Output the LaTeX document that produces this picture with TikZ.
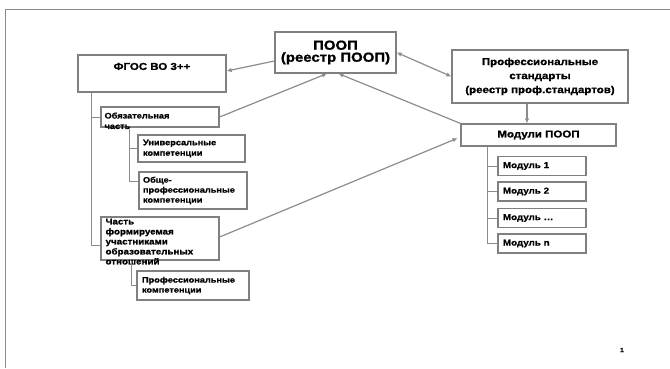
\documentclass[tikz,border=0pt]{standalone}
\usepackage{fontspec}
\setmainfont[FakeStretch=1.15, BoldFeatures={FakeBold=1.2}]{Liberation Sans}
\usetikzlibrary{arrows.meta}
\usetikzlibrary{positioning}

\definecolor{boxGray}{RGB}{128,128,128}
\definecolor{lineGray}{RGB}{140,140,140}

\begin{document}
\begin{tikzpicture}[x=1pt,y=-1pt]
\tikzset{
  boxNode/.style={
    rectangle,
                   draw=boxGray,
                   line width=1.2pt,
                   inner sep=2pt
    },
  leftBox/.style={boxNode, align=left, inner xsep=5pt,
    font=\bfseries\fontsize{8}{10.5}\selectfont},
  modBox/.style={leftBox, text width=78pt, minimum height=19pt,
    font=\bfseries\fontsize{8.5}{10}\selectfont},
  leftText/.style={align=left, inner sep=0pt},
  treeLine/.style={draw=lineGray, line width=1pt},
  arrowLine/.style={draw=lineGray, line width=1.2pt, >={Latex[length=5pt,width=4.5pt]}}
}
    \useasboundingbox (0,0) rectangle (670,368);
    \draw[lineGray, line width=1pt] (670,9) -- (5,9) -- (5,368);

    % top row
    \node (fgos)[boxNode, minimum width=148pt, minimum height=37pt] at (152,73.5) {};
    \node (fgosText)[anchor=north, font=\bfseries\fontsize{10}{12}\selectfont] at ([yshift=-5pt]fgos.north) {ФГОС ВО 3++};
    \node (poop)[boxNode, minimum width=121pt, minimum height=41pt, align=center,
      font=\bfseries\fontsize{13}{12}\selectfont] at (335.5,52.5) {ПООП\\(реестр ПООП)};
    \node (prof)[boxNode, minimum width=176pt, minimum height=53pt, align=center,
      font=\bfseries\fontsize{10}{14}\selectfont] at (540,76.5) {Профессиональные\\стандарты\\(реестр проф.стандартов)};
    \node (moduli)[boxNode, minimum width=155pt, minimum height=22pt,
      font=\bfseries\fontsize{10}{12}\selectfont] at (538.5,135) {Модули ПООП};

    % left branch
    \node (obyaz)[boxNode, minimum width=118pt, minimum height=20pt] at (160,117) {};
    \node (obyazText)[leftText, anchor=north west, font=\bfseries\fontsize{8}{10.5}\selectfont]
      at ([xshift=4pt,yshift=-6pt]obyaz.north west) {Обязательная\\часть};
    \node (univ)[leftBox, text width=97pt, minimum height=27pt] at (191.5,148.5) {Универсальные\\компетенции};
    \node (obshe)[leftBox, inner xsep=4pt, text width=100pt, minimum height=37pt, font=\bfseries\fontsize{8}{10}\selectfont]
      at (193,190.5) {Обще-\\профессиональные\\компетенции};
    \node (chast)[boxNode, minimum width=118pt, minimum height=43pt] at (160,238.5) {};
    \node (chastText)[leftText, anchor=north west, font=\bfseries\fontsize{8.5}{10}\selectfont]
      at ([xshift=5pt,yshift=-2pt]chast.north west) {Часть\\формируемая\\участниками\\образовательных\\отношений};
    \node (profk)[leftBox, text width=102pt, minimum height=29pt, font=\bfseries\fontsize{8}{10}\selectfont]
      at (193,285.5) {Профессиональные\\компетенции};

    \draw[treeLine] ([xshift=-61pt]fgos.south) |- (obyaz.west);
    \draw[treeLine] ([xshift=-61pt]fgos.south) |- ([yshift=-6.5pt]chast.west);
    \draw[treeLine] ([xshift=-31pt]obyaz.south) |- (univ.west);
    \draw[treeLine] ([xshift=-31pt]obyaz.south) |- ([yshift=9pt]obshe.west);
    \draw[treeLine] ([xshift=-29pt]chast.south) |- (profk.west);

    % modules
    \foreach \yy/\nm/\lab in {166/mod1/1, 191.5/mod2/2, 218/mod3/{\ldots}, 243.5/modn/n}{
      \node (\nm)[modBox] at (542,\yy) {Модуль \lab};
      \draw[treeLine] ([xshift=-51.5pt]moduli.south) |- (\nm.west);
    }

    \draw[->, arrowLine] ([yshift=-8.5pt]poop.west) -- ([yshift=2.5pt]fgos.east);
    \draw[->, arrowLine] (obyaz.east) -- ([xshift=-8.5pt]poop.south);
    \draw[->, arrowLine] (moduli.north west) -- ([xshift=3pt]poop.south);
    \draw[<->, arrowLine] (poop.east) -- (prof.west);
    \draw[->, arrowLine] ([xshift=-13pt]prof.south) -- ([xshift=-11.5pt]moduli.north);
    \draw[->, arrowLine, shorten >=3pt] ([yshift=1.5pt]chast.east) -- ([yshift=-2pt]moduli.west);

    \node (pageNum)[font=\bfseries\fontsize{6}{7}\selectfont] at (622,350) {1};
\end{tikzpicture}
\end{document}
